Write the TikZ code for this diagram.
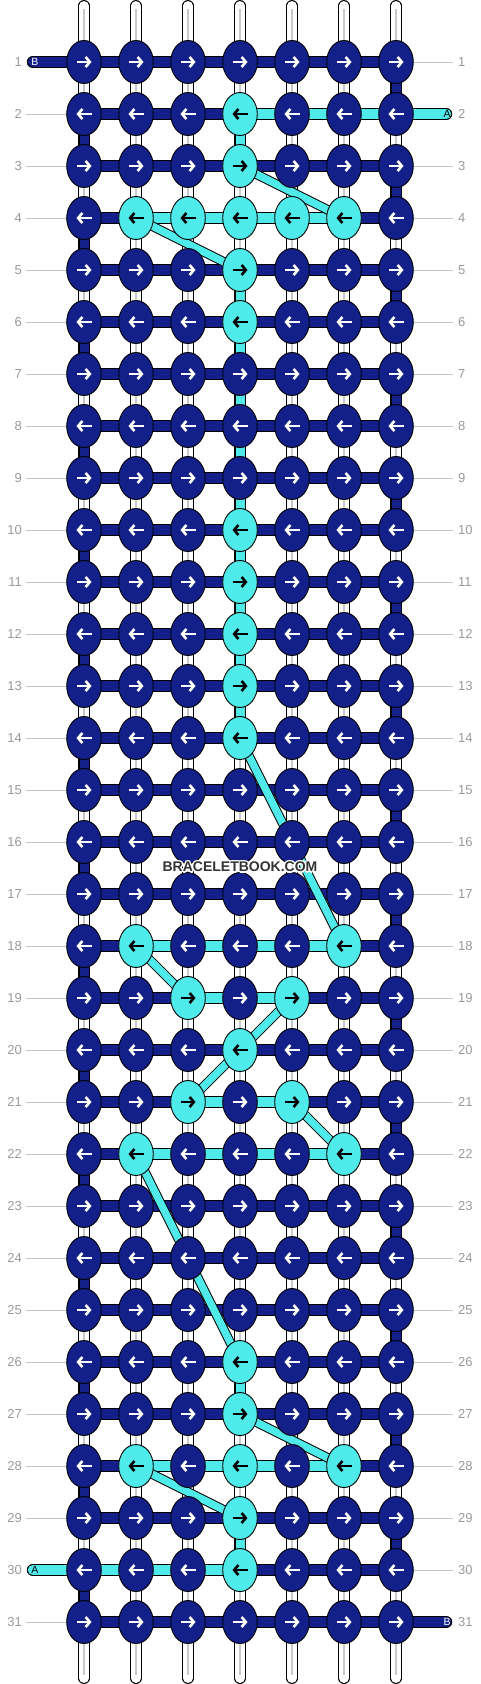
\documentclass[tikz,border=0pt]{standalone}
\usepackage{fontspec}
\setmainfont{Liberation Sans}
\usetikzlibrary{arrows.meta,shapes.geometric}
\definecolor{darkK}{HTML}{14208A}
\definecolor{cyanK}{HTML}{4FEBEB}
\definecolor{numgray}{HTML}{9A9A9A}
\definecolor{linegray}{HTML}{C4C4C4}
\definecolor{warpline}{HTML}{C8C8C8}
\definecolor{wmark}{HTML}{333333}
\begin{document}
\begin{tikzpicture}[x=1pt,y=-1pt,
  knotshape/.style={ellipse,draw=black,line width=0.9pt,minimum width=34.6pt,minimum height=43pt,inner sep=0pt},
  warpout/.style={black,line width=11.5pt,line cap=round},
  warpin/.style={white,line width=9.5pt,line cap=round},
  warpmid/.style={warpline,line width=1.2pt},
  vout/.style={black,line width=11pt},
  vin/.style={line width=9pt},
  hout/.style={black,line width=12.5pt},
  hin/.style={line width=10.5pt},
  tailout/.style={black,line width=12.5pt,line cap=round},
  tailin/.style={line width=10.5pt,line cap=round},
  dout/.style={black,line width=9.5pt},
  din/.style={cyanK,line width=7.5pt},
  arr/.style={line width=2.6pt,-{Straight Barb[length=4.2pt,width=10pt]}},
  numlab/.style={text=numgray,font=\fontsize{13}{13}\selectfont,inner sep=0pt},
  glines/.style={linegray,line width=1pt},
  taillab/.style={font=\fontsize{10.5}{10.5}\selectfont,inner sep=0pt},
  wm/.style={font=\bfseries\fontsize{14}{14}\selectfont,inner sep=0pt}]
\fill[white] (0,0) rectangle (480,1684);
\useasboundingbox (0,0) rectangle (480,1684);

% membership sets
\foreach \n in {2-4,3-4,4-2,4-3,4-4,4-5,4-6,5-4,6-4,10-4,11-4,12-4,13-4,14-4,18-2,18-6,19-3,19-5,20-4,21-3,21-5,22-2,22-6,26-4,27-4,28-2,28-4,28-6,29-4,30-4}
  {\expandafter\gdef\csname cy-\n\endcsname{}}
\foreach \n in {2-4,2-5,2-6,4-2,4-3,4-4,4-5,18-2,18-3,18-4,18-5,19-3,19-4,21-3,21-4,22-2,22-3,22-4,22-5,28-2,28-3,28-4,28-5,30-1,30-2,30-3}
  {\expandafter\gdef\csname hb-\n\endcsname{}}

% coordinates
\foreach \i in {1,...,31}{\foreach \j in {1,...,7}{
  \coordinate (p-\i-\j) at ({84+52*(\j-1)},{62+52*(\i-1)});}}
\foreach \j in {1,...,7}{
  \coordinate (t-\j) at ({84+52*(\j-1)},5.8);
  \coordinate (tm-\j) at ({84+52*(\j-1)},9);
  \coordinate (b-\j) at ({84+52*(\j-1)},1678.2);
  \coordinate (bm-\j) at ({84+52*(\j-1)},1675);}
\coordinate (tl-1) at (33,62);
\coordinate (tr-2) at (446,114);
\coordinate (tl-30) at (33,1570);
\coordinate (tr-31) at (446,1622);

% warp threads
\foreach \j in {1,...,7}{\draw[warpout] (t-\j) -- (b-\j);}
\foreach \j in {1,...,7}{\draw[warpin] (t-\j) -- (b-\j); \draw[warpmid] (tm-\j) -- (bm-\j);}

% vertical coloured connectors
\foreach \i [evaluate=\i as \k using int(\i+1)] in {2,4,...,30}{\draw[vout] (p-\i-1) -- (p-\k-1);}
\foreach \i [evaluate=\i as \k using int(\i+1)] in {1,3,...,29}{\draw[vout] (p-\i-7) -- (p-\k-7);}
\foreach \i [evaluate=\i as \k using int(\i+1)] in {2,5,6,7,8,9,10,11,12,13,26,29}{\draw[vout] (p-\i-4) -- (p-\k-4);}
\foreach \i [evaluate=\i as \k using int(\i+1)] in {2,4,...,30}{\draw[vin,darkK] (p-\i-1) -- (p-\k-1);}
\foreach \i [evaluate=\i as \k using int(\i+1)] in {1,3,...,29}{\draw[vin,darkK] (p-\i-7) -- (p-\k-7);}
\foreach \i [evaluate=\i as \k using int(\i+1)] in {2,5,6,7,8,9,10,11,12,13,26,29}{\draw[vin,cyanK] (p-\i-4) -- (p-\k-4);}

% gray guide lines
\foreach \i in {1,...,31}{
  \node[numlab,anchor=east] (ln-\i) at (22,{62+52*(\i-1)}) {\i};
  \node[numlab,anchor=west] (rn-\i) at (458,{62+52*(\i-1)}) {\i};
  \ifnum\i=1\else\ifnum\i=30\else\draw[glines] ([xshift=4pt]ln-\i.east) -- (p-\i-1);\fi\fi
  \ifnum\i=2\else\ifnum\i=31\else\draw[glines] (p-\i-7) -- ([xshift=-5pt]rn-\i.west);\fi\fi
}

% tails
\draw[tailout] (tl-1) -- (p-1-1);
\draw[tailout] (tr-2) -- (p-2-7);
\draw[tailout] (tl-30) -- (p-30-1);
\draw[tailout] (tr-31) -- (p-31-7);
\draw[tailin,darkK] (tl-1) -- (p-1-1);
\draw[tailin,cyanK] (tr-2) -- (p-2-7);
\draw[tailin,cyanK] (tl-30) -- (p-30-1);
\draw[tailin,darkK] (tr-31) -- (p-31-7);

% horizontal bars
\foreach \i in {1,...,31}{\foreach \j [evaluate=\j as \k using int(\j+1)] in {1,...,6}{
  \draw[hout] (p-\i-\j) -- (p-\i-\k);}}
\foreach \i in {1,...,31}{\foreach \j [evaluate=\j as \k using int(\j+1)] in {1,...,6}{
  \ifcsname hb-\i-\j\endcsname\def\bc{cyanK}\else\def\bc{darkK}\fi
  \draw[hin,color=\bc] (p-\i-\j) -- (p-\i-\k);}}

% diagonals of thread A
\foreach \a/\b in {3-4/4-6,4-2/5-4,14-4/18-6,18-2/19-3,19-5/20-4,20-4/21-3,21-5/22-6,22-2/26-4,27-4/28-6,28-2/29-4}
  {\draw[dout] (p-\a) -- (p-\b);}
\foreach \a/\b in {3-4/4-6,4-2/5-4,14-4/18-6,18-2/19-3,19-5/20-4,20-4/21-3,21-5/22-6,22-2/26-4,27-4/28-6,28-2/29-4}
  {\draw[din] (p-\a) -- (p-\b);}

% knots
\foreach \i in {1,...,31}{\foreach \j in {1,...,7}{
  \ifcsname cy-\i-\j\endcsname\def\kf{cyanK}\def\ka{black}\else\def\kf{darkK}\def\ka{white}\fi
  \ifodd\i\def\as{-7.5}\def\ae{7.5}\else\def\as{7.5}\def\ae{-7.5}\fi
  \node[knotshape,fill=\kf] (k-\i-\j) at (p-\i-\j) {};
  \draw[arr,color=\ka] ([xshift=\as pt]k-\i-\j.center) -- ([xshift=\ae pt]k-\i-\j.center);
}}

% tail labels
\node[taillab,text=white] (lb-1) at (35,62) {B};
\node[taillab,text=black] (la-2) at (447,114) {A};
\node[taillab,text=black] (la-30) at (35,1570) {A};
\node[taillab,text=white] (lb-31) at (447,1622) {B};

% watermark
\foreach \dx/\dy in {-1.3/0,1.3/0,0/-1.3,0/1.3,-1/-1,1/1,-1/1,1/-1}
  {\node[wm,text=white] at ({240+\dx},{867+\dy}) {BRACELETBOOK.COM};}
\node[wm,text=wmark] (wmk) at (240,867) {BRACELETBOOK.COM};
\end{tikzpicture}
\end{document}
